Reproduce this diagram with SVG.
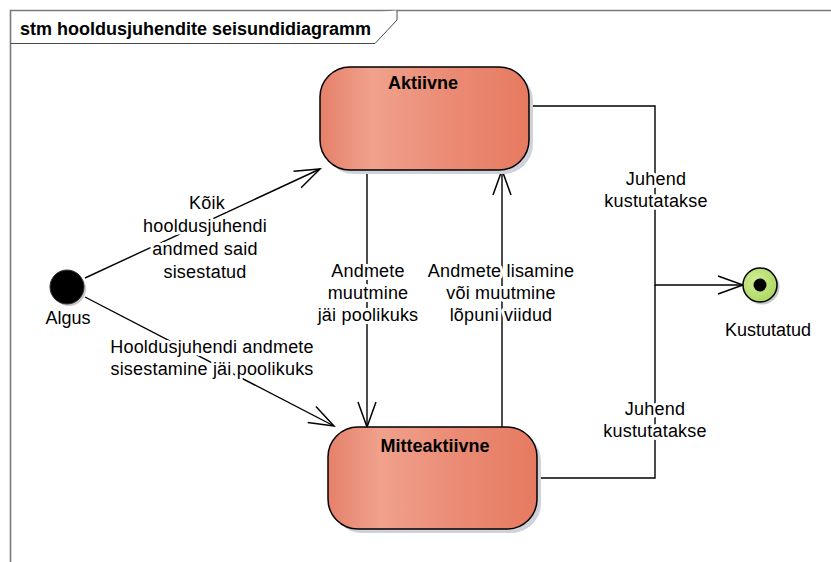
<svg xmlns="http://www.w3.org/2000/svg" width="831" height="562" viewBox="0 0 831 562">
  <style>
    .frame { fill: none; stroke: #7a7a7a; stroke-width: 1.6; }
    .tab { fill: #ffffff; stroke: #4a4a4a; stroke-width: 1; }
    .title { font-family: "Liberation Sans", Arial, sans-serif; font-size: 18px; font-weight: bold; fill: #000; }
    .state { stroke: #000; stroke-width: 1.5; }
    .shadow { fill: #cfd2da; }
    .sname { font-family: "Liberation Sans", Arial, sans-serif; font-size: 18px; font-weight: bold; fill: #000; text-anchor: middle; }
    .edge { fill: none; stroke: #000; stroke-width: 1.4; }
    .lbl { font-family: "Liberation Sans", Arial, sans-serif; font-size: 18px; fill: #000; text-anchor: middle; letter-spacing: 0.2px;
           stroke: #fff; stroke-width: 6; stroke-linejoin: round; paint-order: stroke; }
    .nlbl { font-family: "Liberation Sans", Arial, sans-serif; font-size: 18px; fill: #000; text-anchor: middle; }
  </style>
  <defs>
    <linearGradient id="stateFill" x1="0" y1="0" x2="1" y2="0">
      <stop offset="0" stop-color="#e6806a"/>
      <stop offset="0.25" stop-color="#f0a18c"/>
      <stop offset="0.6" stop-color="#eb8c76"/>
      <stop offset="1" stop-color="#e67a60"/>
    </linearGradient>
    <radialGradient id="finalFill" cx="0.4" cy="0.4" r="0.7">
      <stop offset="0" stop-color="#d4ef9a"/>
      <stop offset="1" stop-color="#a6d45a"/>
    </radialGradient>
    <marker id="open" markerUnits="userSpaceOnUse" markerWidth="30" markerHeight="24" viewBox="-28 -12 30 24" refX="0" refY="0" orient="auto" overflow="visible">
      <path d="M-25,-9 L0,0 L-25,9" fill="none" stroke="#000" stroke-width="1.5"/>
    </marker>
  </defs>

  <rect width="831" height="562" fill="#ffffff"/>

  <!-- diagram frame with name tab -->
  <g id="frame">
    <path class="frame" d="M10.5,562 V10.5 H831"/>
    <path class="tab" d="M10.5,43.5 H375 L397,20 V10.5"/>
    <text class="title" x="20" y="35">stm hooldusjuhendite seisundidiagramm</text>
  </g>

  <!-- transitions -->
  <g id="connectors">
    <path class="edge" d="M85,278 L320,169" marker-end="url(#open)"/>
    <path class="edge" d="M85,297 L334,426" marker-end="url(#open)"/>
    <path class="edge" d="M367,170 V427" marker-end="url(#open)"/>
    <path class="edge" d="M502,427 V170" marker-end="url(#open)"/>
    <path class="edge" d="M529,106 H655 V285 H743" marker-end="url(#open)"/>
    <path class="edge" d="M537,478 H655 V285"/>

    <text class="lbl" x="205"><tspan x="207" y="209">Kõik</tspan><tspan x="205" y="232">hooldusjuhendi</tspan><tspan x="205" y="255">andmed said</tspan><tspan x="205" y="278">sisestatud</tspan></text>
    <text class="lbl"><tspan x="212" y="353">Hooldusjuhendi andmete</tspan><tspan x="212" y="375">sisestamine jäi poolikuks</tspan></text>
    <text class="lbl"><tspan x="368" y="277">Andmete</tspan><tspan x="368" y="299">muutmine</tspan><tspan x="368" y="321">jäi poolikuks</tspan></text>
    <text class="lbl"><tspan x="501" y="277">Andmete lisamine</tspan><tspan x="501" y="299">või muutmine</tspan><tspan x="501" y="321">lõpuni viidud</tspan></text>
    <text class="lbl"><tspan x="656" y="185">Juhend</tspan><tspan x="656" y="207">kustutatakse</tspan></text>
    <text class="lbl"><tspan x="655" y="415">Juhend</tspan><tspan x="655" y="437">kustutatakse</tspan></text>
  </g>

  <!-- initial pseudostate -->
  <g id="algus">
    <circle cx="69" cy="289" r="17" fill="#c8c8c8"/>
    <circle cx="67" cy="287" r="17" fill="#000" stroke="#333" stroke-width="1"/>
    <text class="nlbl" x="68" y="324">Algus</text>
  </g>

  <!-- state: Aktiivne -->
  <g id="aktiivne">
    <rect class="shadow" x="324" y="71" width="209" height="103" rx="30" ry="30"/>
    <rect class="state" x="320" y="67" width="209" height="103" rx="30" ry="30" fill="url(#stateFill)"/>
    <text class="sname" x="423" y="89">Aktiivne</text>
  </g>

  <!-- state: Mitteaktiivne -->
  <g id="mitteaktiivne">
    <rect class="shadow" x="332" y="431" width="209" height="102" rx="30" ry="30"/>
    <rect class="state" x="328" y="427" width="209" height="102" rx="30" ry="30" fill="url(#stateFill)"/>
    <text class="sname" x="435" y="452">Mitteaktiivne</text>
  </g>

  <!-- final state -->
  <g id="kustutatud">
    <circle cx="762" cy="287" r="17.5" fill="#c8c8c8"/>
    <circle cx="760" cy="285" r="17" fill="url(#finalFill)" stroke="#000" stroke-width="1.5"/>
    <circle cx="760" cy="285" r="6.5" fill="#000"/>
    <text class="nlbl" x="768" y="336">Kustutatud</text>
  </g>
</svg>
